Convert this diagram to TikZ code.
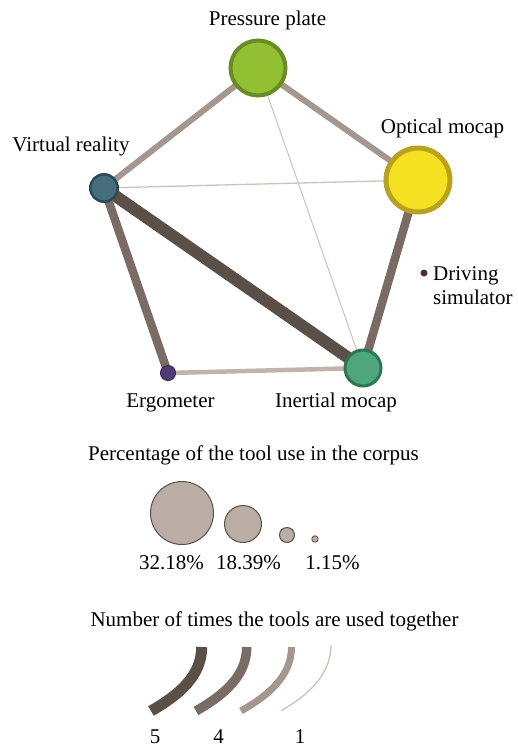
\documentclass[tikz,border=0pt]{standalone}
\usepackage{fontspec}
\setmainfont{Liberation Serif}
\usetikzlibrary{backgrounds}
\definecolor{ewfive}{HTML}{5B5048}
\definecolor{ewfour}{HTML}{7A6C64}
\definecolor{ewthree}{HTML}{A3978F}
\definecolor{ewtwo}{HTML}{BFB3AB}
\definecolor{ewone}{HTML}{CDC1BA}
\definecolor{ppfill}{HTML}{93C032}
\definecolor{ppdraw}{HTML}{6A8C25}
\definecolor{omfill}{HTML}{F5E021}
\definecolor{omdraw}{HTML}{B8A21F}
\definecolor{vrfill}{HTML}{456D7C}
\definecolor{vrdraw}{HTML}{2B4A56}
\definecolor{imfill}{HTML}{4FA67A}
\definecolor{imdraw}{HTML}{2F7550}
\definecolor{erfill}{HTML}{4F3A73}
\definecolor{erdraw}{HTML}{3A2A58}
\definecolor{dsfill}{HTML}{4A2A3C}
\definecolor{legfill}{HTML}{B9ADA5}
\definecolor{legdraw}{HTML}{5B5048}
\tikzset{
  tool/.style={circle, inner sep=0pt, draw},
  lbl/.style={font=\fontsize{21}{25}\selectfont, inner sep=0pt, anchor=base},
  lbll/.style={font=\fontsize{21}{25}\selectfont, inner sep=0pt, anchor=base west},
  legc/.style={circle, inner sep=0pt, draw=legdraw, fill=legfill, line width=1pt},
  e5/.style={draw=ewfive, line width=12pt},
  e4/.style={draw=ewfour, line width=8.5pt},
  e3/.style={draw=ewthree, line width=6pt},
  e2/.style={draw=ewtwo, line width=4.5pt},
  e1/.style={draw=ewone, line width=1.3pt},
  arcshape/.style={line cap=butt}
}
\begin{document}
\begin{tikzpicture}[x=1pt,y=-1pt]
\useasboundingbox (0,0) rectangle (518,748);
% nodes
\node[tool, fill=ppfill, draw=ppdraw, line width=4pt, minimum size=55pt] (pp) at (258,68) {};
\node[tool, fill=omfill, draw=omdraw, line width=5pt, minimum size=64pt] (om) at (418,180) {};
\node[tool, fill=vrfill, draw=vrdraw, line width=2.5pt, minimum size=27.5pt] (vr) at (104,188) {};
\node[tool, fill=imfill, draw=imdraw, line width=3pt, minimum size=36pt] (im) at (363,368) {};
\node[tool, fill=erfill, draw=erdraw, line width=1pt, minimum size=15pt] (er) at (168,373) {};
\node[circle, inner sep=0pt, fill=dsfill, minimum size=7pt] (ds) at (424,273) {};
% edges
\begin{pgfonlayer}{background}
\draw[e5] (vr.center) -- (im.center);
\draw[e4] (vr.center) -- (er.center);
\draw[e4] (om.center) -- (im.center);
\draw[e3] (pp.center) -- (vr.center);
\draw[e3] (pp.center) -- (om.center);
\draw[e2] (er.center) -- (im.center);
\draw[e1] (vr.center) -- (om.center);
\draw[draw=ewone, line width=1pt] (pp.center) -- (im.center);
\end{pgfonlayer}
% labels
\node[lbl] (tpp) at (267.5,25) {Pressure plate};
\node[lbl] (tom) at (442.5,133.5) {Optical mocap};
\node[lbl] (tvr) at (71,151.5) {Virtual reality};
\node[lbll] (tds1) at (433,280) {Driving};
\node[lbll] (tds2) at (433,304) {simulator};
\node[lbl] (ter) at (170.5,407) {Ergometer};
\node[lbl] (tim) at (336,407) {Inertial mocap};
% legend 1
\node[lbl] (lt1) at (253.5,460.5) {Percentage of the tool use in the corpus};
\node[legc, minimum size=63pt] (c1) at (182,513) {};
\node[legc, minimum size=37pt] (c2) at (243,524) {};
\node[legc, minimum size=15pt] (c3) at (287,535) {};
\node[legc, minimum size=6.5pt, line width=0.8pt] (c4) at (315,539) {};
\node[lbl] (p1) at (171.5,569) {32.18\%};
\node[lbl] (p2) at (248.5,569) {18.39\%};
\node[lbl] (p3) at (332.5,569) {1.15\%};
% legend 2
\node[lbl] (lt2) at (274.5,626) {Number of times the tools are used together};
\coordinate (a5t) at (201.7,647);
\coordinate (a5b) at (151,711);
\coordinate (a4t) at (246.7,647);
\coordinate (a4b) at (196,711);
\coordinate (a3t) at (291.5,647);
\coordinate (a3b) at (241,711);
\coordinate (a1t) at (331,645);
\coordinate (a1b) at (281.5,710.5);
\draw[e5, line width=11pt, arcshape] (a5t) .. controls ++(0,30) and ++(26,-15) .. (a5b);
\draw[e4, line width=9.5pt, arcshape] (a4t) .. controls ++(0,30) and ++(26,-15) .. (a4b);
\draw[e3, line width=7pt, arcshape] (a3t) .. controls ++(0,30) and ++(26,-15) .. (a3b);
\draw[e1, arcshape] (a1t) .. controls ++(0,30) and ++(26,-15) .. (a1b);
\node[lbl] (n5) at (155,743.5) {5};
\node[lbl] (n4) at (218.5,743.5) {4};
\node[lbl] (n1) at (300,743.5) {1};
\end{tikzpicture}
\end{document}
